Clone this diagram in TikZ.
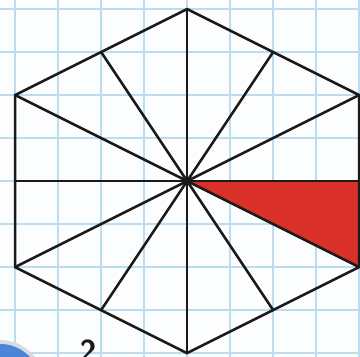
\documentclass[tikz,border=0pt]{standalone}
\usepackage{tikz}
\definecolor{paper}{HTML}{FBFDFF}
\definecolor{gridblue}{HTML}{BCDDF0}
\definecolor{ink}{HTML}{1C1A18}
\definecolor{wedge}{HTML}{D9302A}
\definecolor{badge}{HTML}{4C84D8}
\definecolor{badgerim}{HTML}{D6DCE4}

\begin{document}
\begin{tikzpicture}[line join=round,line cap=round]
  \useasboundingbox (-0.35,-0.07) rectangle (8.02,8.21);
  \clip (-0.35,-0.07) rectangle (8.02,8.21);
  \fill[paper] (-0.35,-0.07) rectangle (8.02,8.21);
  \draw[gridblue,line width=0.9pt] (-1,-1) grid (9,9);

  % corners of the hexagon and midpoints of its sides
  \coordinate (o) at (4,4);
  \coordinate (top) at (4,8);
  \coordinate (ul) at (0,6);
  \coordinate (ll) at (0,2);
  \coordinate (bot) at (4,0);
  \coordinate (lr) at (8,2);
  \coordinate (ur) at (8,6);
  \coordinate (mul) at (2,7);
  \coordinate (ml) at (0,4);
  \coordinate (mll) at (2,1);
  \coordinate (mlr) at (6,1);
  \coordinate (mr) at (8,4);
  \coordinate (mur) at (6,7);

  \fill[wedge] (o) -- (mr) -- (lr) -- cycle;

  \foreach \p in {top,mul,ul,ml,ll,mll,bot,mlr,lr,mr,ur,mur}
    \draw[ink,line width=1.7pt] (o) -- (\p);
  \draw[ink,line width=1.7pt] (top) -- (ul) -- (ll) -- (bot) -- (lr) -- (ur) -- cycle;
  \fill[ink] (o) circle (0.07);

  \draw[fill=badge,draw=badgerim,line width=2.5pt] (-0.35,-0.74) circle (1.0);
  \node[anchor=base,inner sep=0pt,font=\fontsize{20}{22}\selectfont\sffamily\bfseries,color=ink] (num) at (1.7,-0.2) {2};
\end{tikzpicture}
\end{document}
